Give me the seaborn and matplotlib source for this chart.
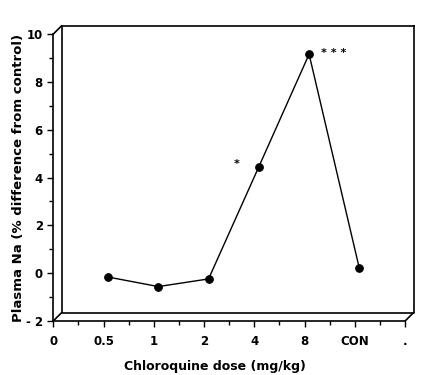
import numpy as np
import pandas as pd
import seaborn as sns
import matplotlib.pyplot as plt
import matplotlib.transforms as mtransforms
from matplotlib.lines import Line2D

# values
dose_labels = ["0", "0.5", "1", "2", "4", "8", "CON", "."]
point_doses = ["0.5", "1", "2", "4", "8", "CON"]
na_change = [-0.16, -0.56, -0.24, 4.45, 9.16, 0.20]
sig_marks = {"4": "*", "8": "* * *"}

sns.set_style("ticks")
plt.rcParams["font.family"] = ["DejaVu Sans"]
plt.rcParams["font.weight"] = "bold"
plt.rcParams["text.color"] = "black"
plt.rcParams["axes.labelcolor"] = "black"
plt.rcParams["xtick.color"] = "black"
plt.rcParams["ytick.color"] = "black"

df = pd.DataFrame({"dose": point_doses, "na": na_change})
df["pos"] = [dose_labels.index(d) for d in df["dose"]]

fig = plt.figure(figsize=(4.26, 3.75), dpi=100)
ax = fig.add_axes([0.125, 0.144, 0.826, 0.765])

# the points sit a little into the depth of the pseudo-3D box
shift = mtransforms.ScaledTranslation(4.5 / 100, 0, fig.dpi_scale_trans)
sns.lineplot(data=df, x="pos", y="na", ax=ax, color="black", linewidth=1.0,
             marker="o", markersize=5.5, markeredgecolor="black",
             transform=ax.transData + shift)

# significance stars, placed relative to their points
star_offsets = {"4": (-18, 3), "8": (29, 1)}
for d, s in sig_marks.items():
    row = df[df["dose"] == d].iloc[0]
    ax.annotate(s, (row["pos"], row["na"]), xytext=star_offsets[d], textcoords="offset pixels",
                ha="center", va="center", fontsize=8)

ax.set_xlim(0, len(dose_labels) - 1)
ax.set_ylim(-2, 10)
ax.set_xticks(range(len(dose_labels)))
ax.set_xticklabels(dose_labels)
ax.set_xticks(np.arange(0.5, len(dose_labels) - 1, 1), minor=True)
ax.set_yticks(range(-2, 11, 2))
ax.set_yticklabels(["- 2", "0", "2", "4", "6", "8", "10"])
ax.set_yticks(range(-1, 10, 2), minor=True)
ax.tick_params(axis="both", which="major", length=4, width=1, labelsize=8.5)
ax.tick_params(axis="both", which="minor", length=3, width=1)
ax.tick_params(axis="x", pad=6)

for side in ["top", "right"]:
    ax.spines[side].set_visible(False)
for side in ["left", "bottom"]:
    ax.spines[side].set_linewidth(1.2)
    ax.spines[side].set_color("black")

# back wall of the box, offset up and to the right
depth = mtransforms.ScaledTranslation(8.5 / 100, 8.5 / 100, fig.dpi_scale_trans)
back = ax.transAxes + depth
ax.add_line(Line2D([1, 0, 0, 1, 1], [1, 1, 0, 0, 1], transform=back, color="black",
                   linewidth=1.2, clip_on=False))
for x0, y0 in [(0, 1), (0, 0), (1, 0)]:
    p0 = ax.transAxes.transform((x0, y0))
    p1 = back.transform((x0, y0))
    fig.add_artist(Line2D([p0[0], p1[0]], [p0[1], p1[1]], transform=mtransforms.IdentityTransform(),
                          color="black", linewidth=1.2))

ax.set_xlabel("Chloroquine dose (mg/kg)", fontsize=9, fontweight="bold")
ax.xaxis.set_label_coords(0.46, -0.135)
ax.set_ylabel("Plasma Na (% difference from control)", fontsize=9.5, fontweight="bold")
ax.yaxis.set_label_coords(-0.08, 0.5)

fig.savefig("out.png", dpi=100)
